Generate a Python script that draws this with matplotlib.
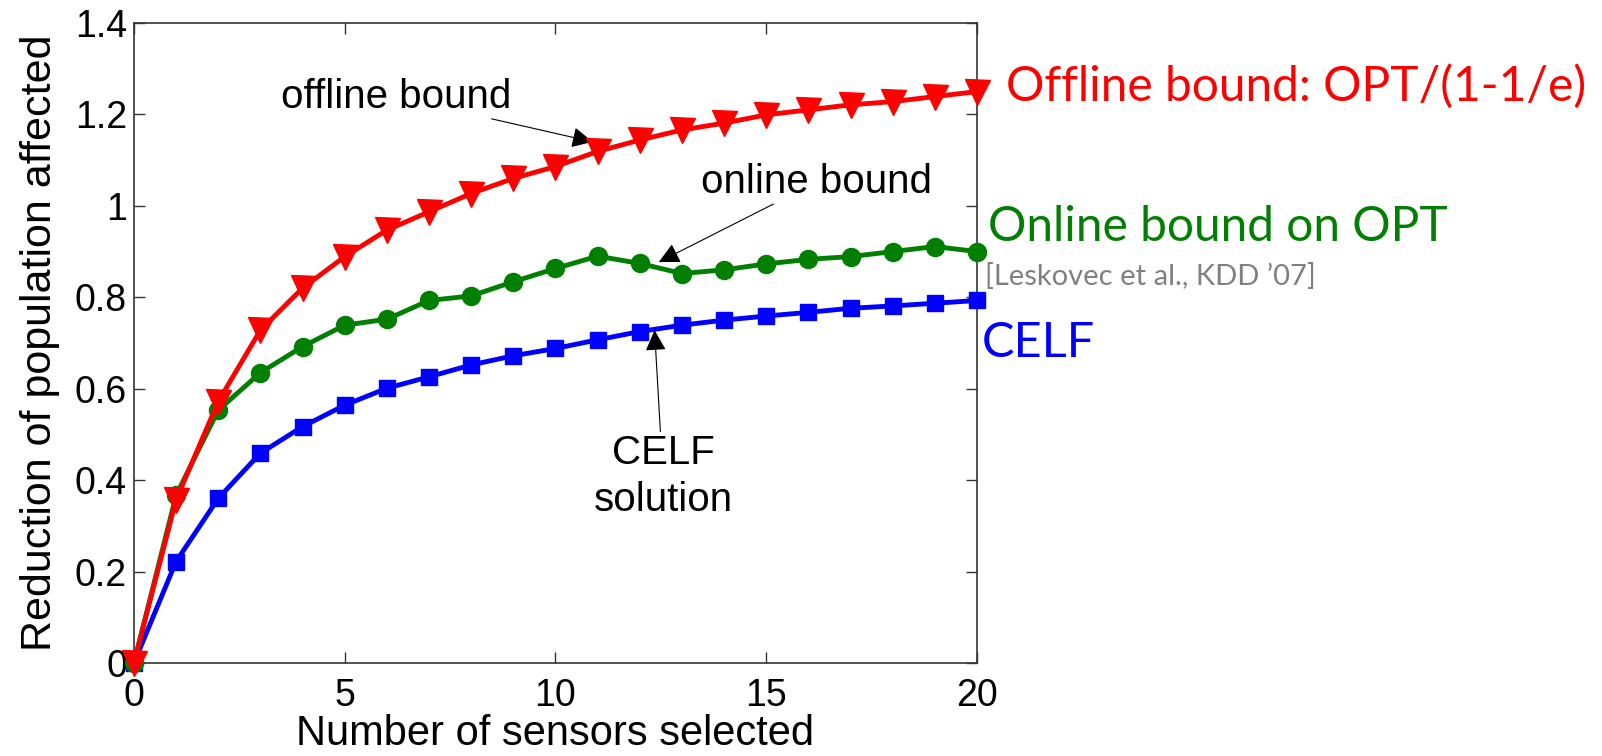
import numpy as np
import matplotlib.pyplot as plt
from matplotlib.ticker import FormatStrFormatter

# sensors selected
sensors = list(range(21))

# reduction of population affected
offline_bound = [0.0, 0.357, 0.572, 0.728, 0.820, 0.889, 0.947, 0.987, 1.027, 1.060, 1.086,
                 1.119, 1.144, 1.166, 1.181, 1.199, 1.210, 1.221, 1.228, 1.239, 1.250]
online_bound = [0.0, 0.367, 0.553, 0.635, 0.692, 0.739, 0.752, 0.793, 0.803, 0.834, 0.863,
                0.890, 0.874, 0.852, 0.860, 0.873, 0.883, 0.889, 0.900, 0.911, 0.900]
celf = [0.0, 0.222, 0.360, 0.459, 0.517, 0.564, 0.601, 0.626, 0.652, 0.672, 0.688,
        0.707, 0.725, 0.739, 0.750, 0.759, 0.767, 0.776, 0.781, 0.787, 0.793]

plt.rcParams['font.family'] = ['Liberation Sans', 'DejaVu Sans']

fig = plt.figure(figsize=(16.02, 7.56), dpi=100)
ax = fig.add_axes([0.0836, 0.123, 0.5263, 0.8466])

# draw blue first, red last (red sits on top)
ax.plot(sensors, celf, color='#0000ff', lw=3.5, marker='s', ms=12, clip_on=False, zorder=3)
ax.plot(sensors, online_bound, color='#007f00', lw=3.5, marker='o', ms=13, clip_on=False, zorder=4)
ax.plot(sensors, offline_bound, color='#ff0000', lw=3.5, marker='v', ms=18, clip_on=False, zorder=5)

ax.set_xlim(0, 20)
ax.set_ylim(0, 1.4)
ax.set_xticks([0, 5, 10, 15, 20])
ax.set_yticks(np.arange(0, 1.41, 0.2))
ax.yaxis.set_major_formatter(FormatStrFormatter('%g'))
ax.tick_params(direction='in', length=8, width=1, top=True, right=True,
               labelsize=27, pad=5, color='#333333')
ax.tick_params(axis='x', pad=11)
for sp in ax.spines.values():
    sp.set_linewidth(1.2)
    sp.set_color('#333333')

ax.set_xlabel('Number of sensors selected', fontsize=30, labelpad=0)
ax.set_ylabel('Reduction of population affected', fontsize=31, labelpad=11)

arrow = dict(arrowstyle='-|>', color='black', lw=0.8,
             mutation_scale=32, shrinkA=0, shrinkB=0)
ax.annotate('offline bound', xy=(10.88, 1.14), xytext=(8.95, 1.238),
            fontsize=29, ha='right', va='center', arrowprops=arrow)
ax.annotate('online bound', xy=(12.45, 0.877), xytext=(13.45, 1.01),
            fontsize=29, ha='left', va='bottom', arrowprops=arrow)
ax.annotate('CELF\nsolution', xy=(12.35, 0.728), xytext=(12.55, 0.5),
            fontsize=29, ha='center', va='top', linespacing=1.3, arrowprops=arrow)

# side labels
side = ['Lato', 'DejaVu Sans']
fig.text(0.628, 0.885, 'Offline bound: OPT/(1-1/e)', color='#ff0000', fontsize=34.5,
         family=side, va='center')
fig.text(0.617, 0.700, 'Online bound on OPT', color='#007f00', fontsize=34.5,
         family=side, va='center')
fig.text(0.615, 0.634, '[Leskovec et al., KDD \u201907]', color='#808080', fontsize=21,
         family=side, va='center')
fig.text(0.613, 0.546, 'CELF', color='#0000ff', fontsize=35, family=side, va='center')

fig.savefig('out.png', dpi=100)
